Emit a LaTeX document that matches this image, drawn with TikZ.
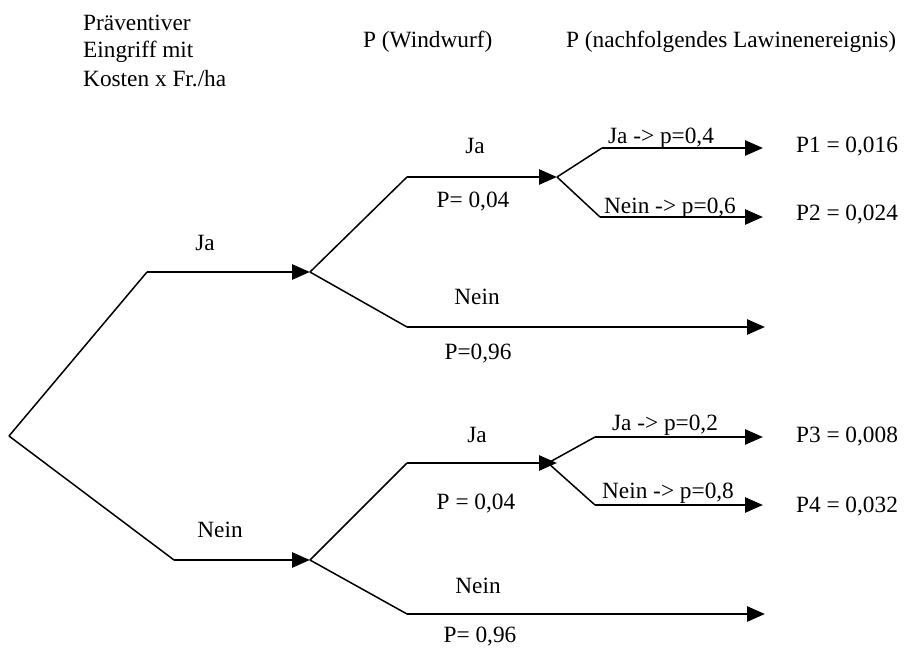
\documentclass[tikz,border=0pt]{standalone}
\usepackage{fontspec}
\setmainfont{Liberation Serif}
\usetikzlibrary{arrows.meta}

\begin{document}
\begin{tikzpicture}[x=1pt, y=-1pt,
    diag/.style={line width=1.5pt},
    leg/.style={line width=2.6pt, -{Triangle[length=18pt, width=15pt]}},
    lbl/.style={anchor=base, inner sep=0pt, font=\fontsize{23.3}{28}\selectfont}]
  \useasboundingbox (0, 0) rectangle (906, 648);

  % headings
  \node[lbl, anchor=base west] (H1) at (83, 30) {Präventiver};
  \node[lbl, anchor=base west] (H2) at (83, 57) {Eingriff mit};
  \node[lbl, anchor=base west] (H3) at (83, 86) {Kosten x Fr./ha};
  \node[lbl, anchor=base west] (HW) at (363, 47) {P (Windwurf)};
  \node[lbl, anchor=base west] (HL) at (566, 47) {P (nachfolgendes Lawinenereignis)};

  % Eingriff
  \coordinate (R) at (9, 436);
  \coordinate (E1) at (147, 272);
  \coordinate (E1t) at (310, 272);
  \coordinate (E2) at (174, 560);
  \coordinate (E2t) at (310, 560);
  \draw[diag] (R) -- (E1);
  \draw[diag] (R) -- (E2);
  \draw[leg] (E1) -- (E1t);
  \draw[leg] (E2) -- (E2t);
  \node[lbl] (tE1) at (205, 250) {Ja};
  \node[lbl] (tE2) at (220, 537) {Nein};

  % Windwurf, mit Eingriff
  \coordinate (W1) at (407, 177);
  \coordinate (W1t) at (557, 177);
  \coordinate (W2) at (407, 327);
  \coordinate (W2t) at (765, 327);
  \draw[diag] (E1t) -- (W1);
  \draw[diag] (E1t) -- (W2);
  \draw[leg] (W1) -- (W1t);
  \draw[leg] (W2) -- (W2t);
  \node[lbl] (tW1) at (475, 153) {Ja};
  \node[lbl] (pW1) at (473, 207) {P= 0,04};
  \node[lbl] (tW2) at (477, 304) {Nein};
  \node[lbl] (pW2) at (478, 359) {P=0,96};

  % Windwurf, ohne Eingriff
  \coordinate (W3) at (407, 463);
  \coordinate (W3t) at (557, 463);
  \coordinate (W4) at (407, 614);
  \coordinate (W4t) at (765, 614);
  \draw[diag] (E2t) -- (W3);
  \draw[diag] (E2t) -- (W4);
  \draw[leg] (W3) -- (W3t);
  \draw[leg] (W4) -- (W4t);
  \node[lbl] (tW3) at (477, 442) {Ja};
  \node[lbl] (pW3) at (476, 509) {P = 0,04};
  \node[lbl] (tW4) at (478, 593) {Nein};
  \node[lbl] (pW4) at (480, 642) {P= 0,96};

  % Lawine
  \coordinate (L1) at (602, 148);
  \coordinate (L1t) at (763, 148);
  \coordinate (L2) at (600, 217);
  \coordinate (L2t) at (763, 217);
  \draw[diag] (W1t) -- (L1);
  \draw[diag] (W1t) -- (L2);
  \draw[leg] (L1) -- (L1t);
  \draw[leg] (L2) -- (L2t);
  \node[lbl] (tL1) at (661, 143) {Ja -> p=0,4};
  \node[lbl] (tL2) at (670, 213) {Nein -> p=0,6};
  \node[lbl] (P1) at (847, 152) {P1 = 0,016};
  \node[lbl] (P2) at (847, 220) {P2 = 0,024};

  \coordinate (F2) at (548, 463);
  \coordinate (L3) at (595, 437);
  \coordinate (L3t) at (763, 437);
  \coordinate (L4) at (595, 505);
  \coordinate (L4t) at (763, 505);
  \draw[diag] (F2) -- (L3);
  \draw[diag] (F2) -- (L4);
  \draw[leg] (L3) -- (L3t);
  \draw[leg] (L4) -- (L4t);
  \node[lbl] (tL3) at (665, 430) {Ja -> p=0,2};
  \node[lbl] (tL4) at (668, 498) {Nein -> p=0,8};
  \node[lbl] (P3) at (847, 442) {P3 = 0,008};
  \node[lbl] (P4) at (847, 512) {P4 = 0,032};
\end{tikzpicture}
\end{document}
